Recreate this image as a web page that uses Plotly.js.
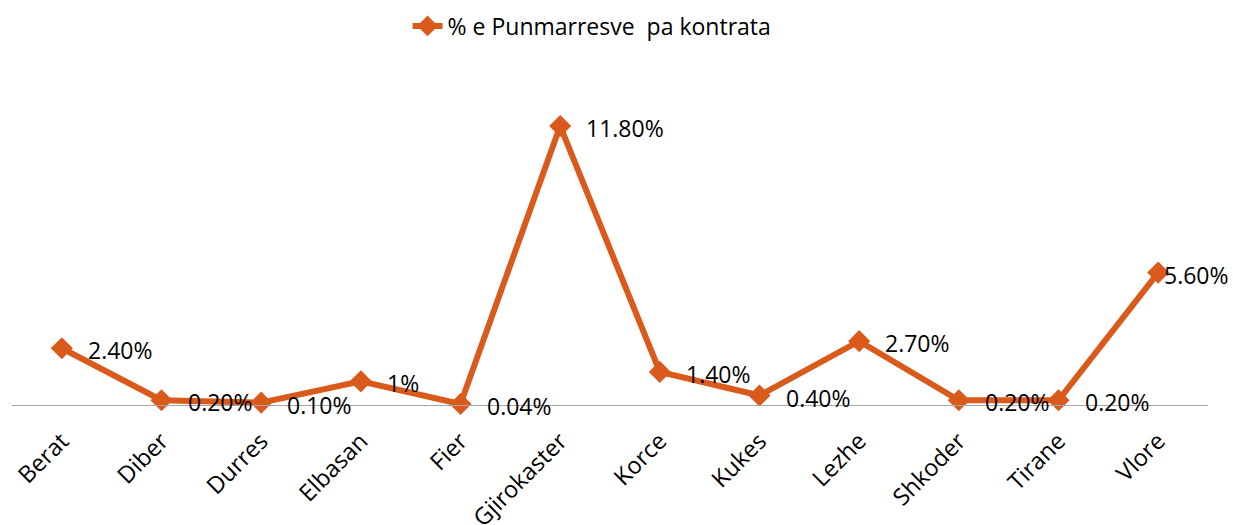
<!DOCTYPE html>
<html>
<head>
<meta charset="utf-8">
<script src="https://cdn.plot.ly/plotly-3.0.1.min.js"></script>
<style>
  html, body { margin: 0; padding: 0; background: #fff; }
  #chart { width: 1233px; height: 525px; }
</style>
</head>
<body>
<div id="chart"></div>
<script>
const categories = ["Berat", "Diber", "Durres", "Elbasan", "Fier", "Gjirokaster", "Korce", "Kukes", "Lezhe", "Shkoder", "Tirane", "Vlore"];
const values = [2.4, 0.2, 0.1, 1, 0.04, 11.8, 1.4, 0.4, 2.7, 0.2, 0.2, 5.6];
const labels = ["2.40%", "0.20%", "0.10%", "1%", "0.04%", "11.80%", "1.40%", "0.40%", "2.70%", "0.20%", "0.20%", "5.60%"];
const seriesName = "% e Punmarresve  pa kontrata";

const color = "#D95A1B";
const fontFamily = "'Open Sans', 'Liberation Sans', sans-serif";

const trace = {
  type: "scatter",
  mode: "lines+markers",
  x: categories,
  y: values,
  name: seriesName,
  line: { color: color, width: 6 },
  marker: { symbol: "diamond", size: 17, color: color },
  cliponaxis: false,
  hoverinfo: "skip"
};

const annotations = categories.map((c, i) => ({
  x: c,
  y: values[i],
  xref: "x",
  yref: "y",
  text: labels[i],
  showarrow: false,
  xanchor: "left",
  yanchor: "middle",
  xshift: i === categories.length - 1 ? 4 : 24,
  yshift: -2,
  font: { family: fontFamily, size: 23, color: "#000" }
}));

const layout = {
  width: 1233,
  height: 525,
  margin: { l: 12, r: 25, t: 74, b: 120, autoexpand: false },
  paper_bgcolor: "#fff",
  plot_bgcolor: "#fff",
  showlegend: true,
  legend: {
    orientation: "h",
    x: 0.485,
    xanchor: "center",
    y: 1.145,
    yanchor: "middle",
    font: { family: fontFamily, size: 23, color: "#000" },
    bgcolor: "rgba(0,0,0,0)"
  },
  xaxis: {
    type: "category",
    range: [-0.5, 11.5],
    showgrid: false,
    zeroline: false,
    showline: true,
    linecolor: "#a6a6a6",
    linewidth: 1,
    ticks: "",
    tickangle: -45,
    ticklabelstandoff: 12,
    tickfont: { family: fontFamily, size: 23.5, color: "#000" },
    automargin: false,
    fixedrange: true
  },
  yaxis: {
    range: [0, 14],
    visible: false,
    showgrid: false,
    zeroline: false,
    fixedrange: true
  },
  annotations: annotations
};

Plotly.newPlot("chart", [trace], layout, { displayModeBar: false, staticPlot: true });
</script>
</body>
</html>
